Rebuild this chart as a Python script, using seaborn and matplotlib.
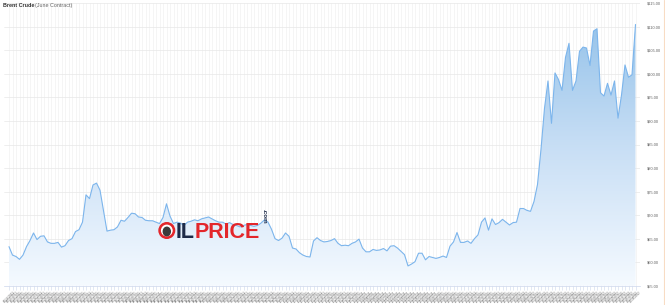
import numpy as np
import pandas as pd
import matplotlib
matplotlib.use("Agg")
import matplotlib.pyplot as plt
import seaborn as sns
from matplotlib.colors import LinearSegmentedColormap
from matplotlib.patches import Circle, Ellipse

# ---------------- data ----------------
prices = [
    63.3, 61.5, 61.2, 60.6, 61.5, 63.3, 64.6, 66.2, 64.8, 65.5,
    65.6, 64.3, 64.0, 64.0, 64.2, 63.2, 63.5, 64.6, 65.0, 66.5,
    66.9, 68.5, 74.3, 73.5, 76.4, 76.8, 75.3, 71.0, 66.6, 66.8,
    66.9, 67.5, 68.9, 68.7, 69.5, 70.4, 70.3, 69.6, 69.5, 68.9,
    68.8, 68.8, 68.5, 68.2, 69.5, 72.4, 69.8, 68.2, 68.5, 68.3,
    67.8, 68.5, 68.7, 69.0, 68.8, 69.2, 69.4, 69.6, 69.2, 68.8,
    68.5, 68.5, 68.1, 68.4, 68.0, 67.8, 67.5, 67.8, 68.0, 67.8,
    67.6, 67.8, 68.3, 69.0, 68.5, 67.0, 65.0, 64.6, 65.1, 66.2,
    65.5, 63.0, 62.8, 62.0, 61.5, 61.2, 61.1, 64.5, 65.2, 64.6,
    64.3, 64.4, 64.6, 65.0, 64.0, 63.5, 63.6, 63.5, 64.0, 64.3,
    64.9, 63.0, 62.2, 62.2, 62.7, 62.5, 62.6, 62.9, 62.4, 63.4,
    63.5, 63.0, 62.3, 61.6, 59.2, 59.6, 60.1, 61.9, 61.9, 60.5,
    61.2, 61.0, 60.8, 61.0, 61.3, 61.0, 63.4, 64.3, 66.3, 64.2,
    64.2, 64.5, 64.0, 65.0, 65.8, 68.5, 69.4, 66.8, 69.2, 68.0,
    68.4, 69.1, 68.5, 67.9, 68.4, 68.5, 71.4, 71.4, 71.0, 70.8,
    72.9, 76.5, 84.0, 92.7, 98.5, 89.5, 100.2, 98.8, 96.5, 103.5,
    106.5, 96.5, 98.5, 104.8, 105.7, 105.5, 101.8, 109.1, 109.6, 96.0,
    95.3, 98.0, 95.5, 98.5, 90.6, 95.5, 101.9, 99.3, 99.8, 110.5,
]
dates = pd.bdate_range("2021-06-14", periods=len(prices))
date_labels = [d.strftime("%m/%d/%Y") for d in dates]
y_ticks = [55, 60, 65, 70, 75, 80, 85, 90, 95, 100, 105, 110, 115]
title_main = "Brent Crude"
title_sub = "(June Contract)"

# ---------------- style ----------------
sns.set_theme(style="white")
plt.rcParams["font.family"] = ["Liberation Sans", "DejaVu Sans"]

W, H = 665, 305
fig = plt.figure(figsize=(W / 100, H / 100), dpi=100)
fig.patch.set_facecolor("white")

ax_left, ax_right = 4, 640
ax_top, ax_bot = 3.3, 285.7
ax = fig.add_axes([ax_left / W, (H - ax_bot) / H,
                   (ax_right - ax_left) / W, (ax_bot - ax_top) / H])

df = pd.DataFrame({"idx": np.arange(len(prices)), "price": prices})
ymin, ymax = y_ticks[0], y_ticks[-1]
xmin, xmax = -5 / 3.5, len(prices) - 1 + 4.5 / 3.5

# gradient area fill
poly = ax.fill_between(df["idx"], df["price"], ymin, facecolor="none", lw=0)
grad = np.linspace(0, 1, 256)[:, None]
cmap = LinearSegmentedColormap.from_list(
    "g", [(0.56, 0.75, 0.91), (0.78, 0.87, 0.96), (0.96, 0.98, 1.0)])
im = ax.imshow(grad, aspect="auto", cmap=cmap,
               extent=[xmin, xmax, ymin, ymax], origin="upper", zorder=1)
im.set_clip_path(poly.get_paths()[0], transform=ax.transData)

sns.lineplot(data=df, x="idx", y="price", ax=ax, color="#7cb5ec",
             lw=0.8, zorder=3)

ax.set_xlim(xmin, xmax)
ax.set_ylim(ymin, ymax)
ax.set_xlabel("")
ax.set_ylabel("")

ax.set_xticks(df["idx"])
ax.set_xticklabels(date_labels, rotation=45, ha="center",
                   fontsize=2.2, color="#666666")
ax.tick_params(axis="x", length=3, width=0.4, color="#ccd6eb", pad=0.5,
               bottom=True)

ax.yaxis.tick_right()
ax.set_yticks(y_ticks)
ax.set_yticklabels([f"${v:.2f}" for v in y_ticks], fontsize=2.9,
                   color="#666666")
ax.tick_params(axis="y", length=0, pad=5)

ax.grid(axis="y", color="#e8e8e8", lw=0.5)
ax.grid(axis="x", color="#f2f2f2", lw=0.5)
ax.set_axisbelow(True)
for s in ["top", "left", "right"]:
    ax.spines[s].set_visible(False)
ax.spines["bottom"].set_color("#ccd6eb")
ax.spines["bottom"].set_linewidth(0.5)

# overlay axes in pixel coordinates for title / watermark
ov = fig.add_axes([0, 0, 1, 1], zorder=10)
ov.set_xlim(0, W)
ov.set_ylim(H, 0)
ov.axis("off")
ov.patch.set_alpha(0)

ov.text(3, 5.5, title_main, fontsize=3.9, fontweight="bold",
        color="#333333", va="center", ha="left")
ov.text(35.0, 5.5, title_sub, fontsize=3.9, color="#666666",
        va="center", ha="left")

# OILPRICE watermark
ov.add_patch(Circle((166.8, 230.5), 7.8, color="#e3262b", zorder=11))
ov.add_patch(Circle((166.8, 230.5), 5.2, color="white", zorder=12))
ov.add_patch(Ellipse((166.8, 231.5), 7.0, 8.5, color="#3a3a3a", zorder=13))
ov.text(175.5, 238.5, "IL", fontsize=15.5, fontweight="bold",
        color="#1d2a48", va="baseline", ha="left", zorder=11)
ov.text(195.0, 238.5, "PRICE", fontsize=15.5, fontweight="bold",
        color="#e3262b", va="baseline", ha="left", zorder=11)
ov.text(262, 209, ".com", fontsize=4.5, fontweight="bold", color="#1d2a48",
        rotation=-90, va="top", ha="left", zorder=11)

ov.plot([663.5, 663.5], [0, H], color="#f8dcc4", lw=0.8)

fig.savefig("out.png", dpi=100, facecolor="white")
